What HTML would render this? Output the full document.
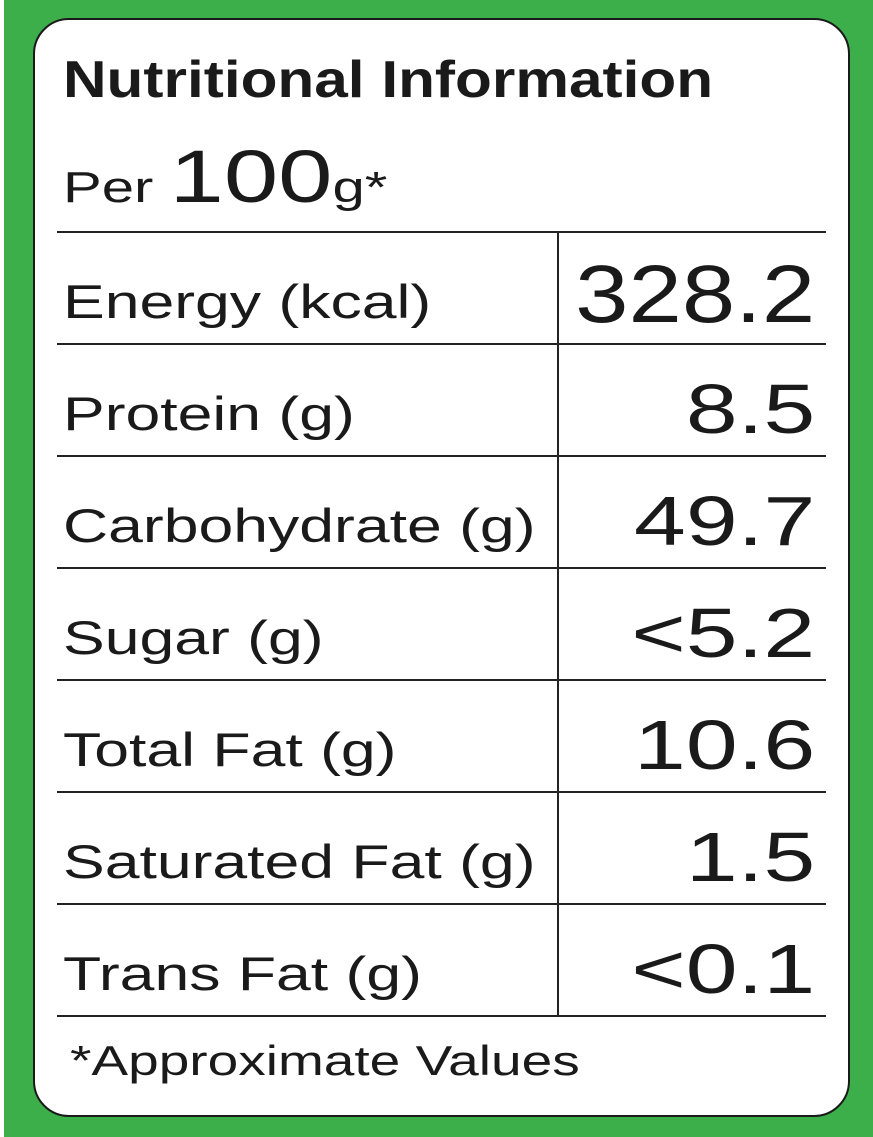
<!DOCTYPE html>
<html><head><meta charset="utf-8"><style>
body{margin:0;width:873px;height:1137px;background:#fff;position:relative;overflow:hidden;font-family:"Liberation Sans",sans-serif;color:#1a1a1a}
#bg{position:absolute;left:4px;top:0;width:869px;height:1137px;background:#3cae4a}
#card{position:absolute;left:33px;top:18px;width:813px;height:1095px;background:#fff;border:2px solid #1a1a1a;border-radius:36px}
.t{position:absolute;white-space:nowrap;transform-origin:left center}
.h{position:absolute;left:57px;width:769px;height:2px;background:#222}
.v{position:absolute;left:557px;top:232px;width:2px;height:784px;background:#222}
.lab{position:absolute;left:63px;font-size:47px;line-height:1;white-space:nowrap;transform:scaleX(1.33);transform-origin:left center}
.val{position:absolute;right:58px;font-size:72px;line-height:1;text-align:right;white-space:nowrap;transform-origin:right center}
</style></head><body>
<div id="bg"></div>
<div id="card"></div>
<div class="t" style="left:63px;top:54px;font-size:52px;font-weight:bold;line-height:1;transform:scaleX(1.16)">Nutritional Information</div>
<div class="t" style="left:63px;top:140px;line-height:1;transform:scaleX(1.32)"><span style="font-size:44px">Per </span><span style="font-size:74px">100</span><span style="font-size:44px">g*</span></div>
<div class="v"></div>
<div id="rows"></div>
<div class="t" style="left:70px;top:1040px;font-size:42px;line-height:1;transform:scaleX(1.31)">*Approximate Values</div>
<script>
const labels=["Energy (kcal)","Protein (g)","Carbohydrate (g)","Sugar (g)","Total Fat (g)","Saturated Fat (g)","Trans Fat (g)"];
const values=["328.2","8.5","49.7","<5.2","10.6","1.5","<0.1"];
const rows=document.getElementById('rows');
const top0=232,rh=112;
for(let i=0;i<=labels.length;i++){
  const l=document.createElement('div');l.className='h';l.style.top=(top0+i*rh-1)+'px';
  
  
  rows.appendChild(l);
}
labels.forEach((t,i)=>{
  const a=document.createElement('div');a.className='lab';a.textContent=t;a.style.top=(top0+i*rh+46)+'px';
  
  
  rows.appendChild(a);
  const b=document.createElement('div');b.className='val';b.textContent=values[i];
  const big=i===0;b.style.fontSize=(big?82:70)+'px';b.style.top=(top0+i*rh+(big?22:30))+'px';
  b.style.transform='scaleX('+(big?1.17:1.33)+')';
  
  
  rows.appendChild(b);
});
</script>
</body></html>
